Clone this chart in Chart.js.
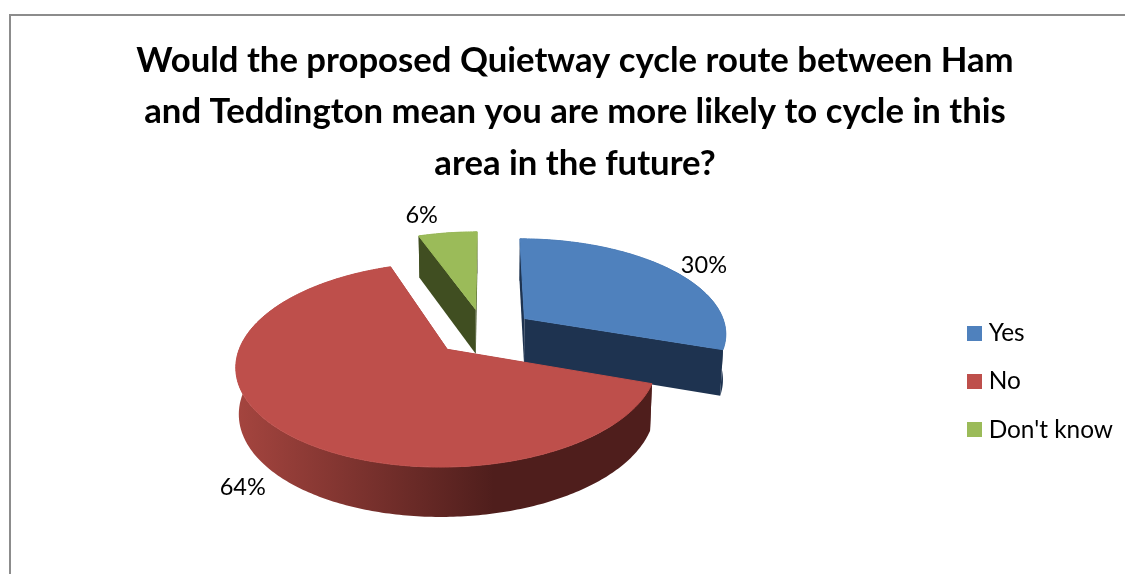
<!DOCTYPE html>
<html><head><meta charset="utf-8">
<style>html,body{margin:0;padding:0;background:#fff;overflow:hidden}canvas{display:block}</style>
<script src="https://cdn.jsdelivr.net/npm/chart.js@4"></script>
</head><body><canvas id="c" width="1125" height="574"></canvas>
<script>
const categories = ['Yes', 'No', "Don't know"];
const percents = [30.3, 64.2, 5.5];
const faceColors = ['#4F81BD', '#BE4F4B', '#9BBB59'];
const wallLight = ['#1E3350', '#A5453F', '#404E21'];
const wallDark = ['#1E3350', '#4F1E1C', '#404E21'];
const labelNudge = [[33, -4], [-36, 58], [-26, -17]];
const titleLines = ['Would the proposed Quietway cycle route between Ham',
  'and Teddington mean you are more likely to cycle in this',
  'area in the future?'];

// Perspective camera for the tilted pie
const cam = { xv: 488, yv: 349, rx: 208, ry: 100, k: 0.15, p0: -0.02, q0: 0.175, depth: 46, shrink: 0.988 };
function project(p, q) {
  const w = 1 + cam.k * q;
  return { x: cam.xv + cam.rx * p / w, y: cam.yv - cam.ry * q / w, w };
}
function lower(pt) {
  return { x: cam.xv + (pt.x - cam.xv) * cam.shrink, y: pt.y + cam.depth / Math.sqrt(pt.w) };
}
function outline(arc) {
  const e = arc.options.offset / arc.outerRadius;
  const mid = (arc.startAngle + arc.endAngle) / 2;
  const cp = cam.p0 + e * Math.cos(mid), cq = cam.q0 - e * Math.sin(mid);
  const pts = [project(cp, cq)];
  const n = Math.max(2, Math.ceil((arc.endAngle - arc.startAngle) / 0.015));
  for (let i = 0; i <= n; i++) {
    const a = arc.startAngle + (arc.endAngle - arc.startAngle) * i / n;
    pts.push(project(cp + Math.cos(a), cq - Math.sin(a)));
  }
  return { pts, cq, cp, mid };
}
function tracePoly(ctx, pts) {
  ctx.beginPath();
  pts.forEach((p, i) => i ? ctx.lineTo(p.x, p.y) : ctx.moveTo(p.x, p.y));
  ctx.closePath();
}
function legendSwatch(color) {
  const c = document.createElement('canvas');
  c.width = 15; c.height = 15;
  const g = c.getContext('2d');
  g.fillStyle = color; g.fillRect(0, 0, 15, 15);
  return c;
}
const pie3d = {
  id: 'pie3d',
  beforeDraw(chart) {
    const ctx = chart.ctx;
    ctx.save();
    ctx.strokeStyle = '#8C8C8C'; ctx.lineWidth = 2;
    ctx.beginPath(); ctx.moveTo(10, 574); ctx.lineTo(10, 15); ctx.lineTo(1125, 15); ctx.stroke();
    ctx.restore();
  },
  beforeDatasetDraw(chart) {
    const ctx = chart.ctx;
    const arcs = chart.getDatasetMeta(0).data;
    const shapes = arcs.map((arc, i) => Object.assign(outline(arc), { arc, i }));
    shapes.sort((a, b) => b.cq - a.cq);
    ctx.save();
    shapes.forEach(s => {
      const xs = s.pts.map(p => p.x);
      const x0 = Math.min(...xs), x1 = Math.max(...xs);
      const g = ctx.createLinearGradient(x0, 0, x0 + (x1 - x0) * 0.62, 0);
      g.addColorStop(0, wallLight[s.i]); g.addColorStop(1, wallDark[s.i]);
      ctx.fillStyle = g;
      const rim = s.pts.slice(1);
      tracePoly(ctx, rim.concat(rim.map(lower).reverse())); ctx.fill();
      const c = s.pts[0], first = rim[0], last = rim[rim.length - 1];
      tracePoly(ctx, [c, first, lower(first), lower(c)]); ctx.fill();
      tracePoly(ctx, [c, last, lower(last), lower(c)]); ctx.fill();
      tracePoly(ctx, s.pts);
      ctx.fillStyle = ctx.strokeStyle = s.arc.options.backgroundColor;
      ctx.lineWidth = 1;
      ctx.fill(); ctx.stroke();
    });
    ctx.fillStyle = '#000';
    ctx.font = '23.5px Lato, sans-serif';
    ctx.textAlign = 'center'; ctx.textBaseline = 'middle';
    shapes.forEach(s => {
      const a = project(s.cp + Math.cos(s.mid), s.cq - Math.sin(s.mid));
      ctx.fillText(Math.round(percents[s.i]) + '%', a.x + labelNudge[s.i][0], a.y + labelNudge[s.i][1]);
    });
    ctx.restore();
    return false;
  }
};
new Chart(document.getElementById('c'), {
  type: 'pie',
  data: { labels: categories, datasets: [{ data: percents, backgroundColor: faceColors, borderWidth: 0, offset: 25 }] },
  options: {
    responsive: false, animation: false, devicePixelRatio: 1,
    radius: 100,
    layout: { padding: { top: 35, right: 2, left: 27, bottom: 108 } },
    events: [],
    plugins: {
      tooltip: { enabled: false },
      title: { display: true, text: titleLines, color: '#000', font: { family: 'Lato, sans-serif', size: 34.7, weight: 'bold', lineHeight: 1.485 }, padding: { top: 0, bottom: 12 } },
      legend: {
        position: 'right', align: 'end',
        labels: {
          boxWidth: 3, boxHeight: 15, padding: 24, color: '#000', usePointStyle: true,
          font: { family: 'Lato, sans-serif', size: 24.4 },
          generateLabels(chart) {
            return Chart.overrides.pie.plugins.legend.labels.generateLabels(chart).map((item, i) =>
              Object.assign(item, { pointStyle: legendSwatch(faceColors[i]) }));
          }
        }
      }
    }
  },
  plugins: [pie3d]
});
</script></body></html>
